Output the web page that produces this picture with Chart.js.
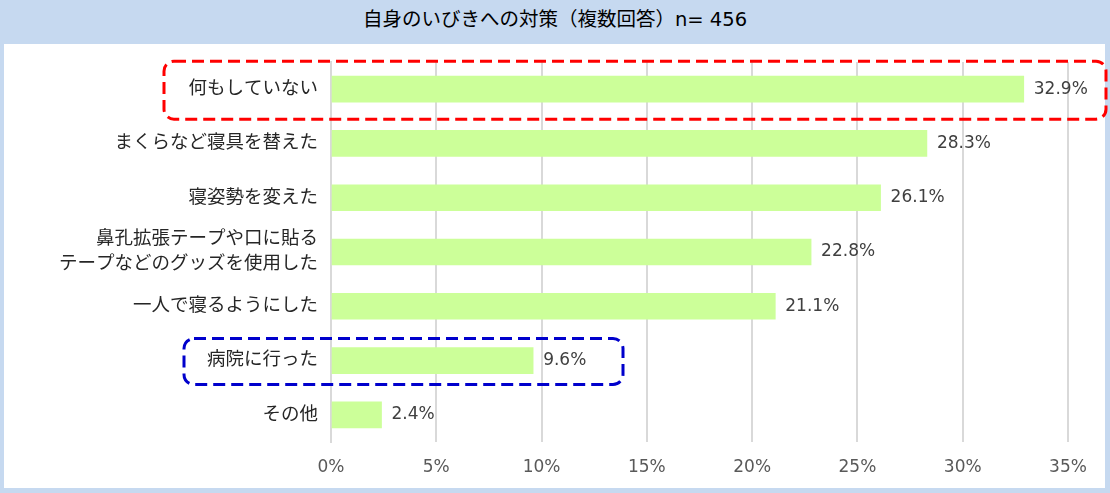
<!DOCTYPE html>
<html>
<head>
<meta charset="utf-8">
<script src="https://cdn.jsdelivr.net/npm/chart.js@4"></script>
<style>
  html, body { margin: 0; padding: 0; background: #c6d9f0; }
  #wrap { position: relative; width: 1110px; height: 493px; }
  #title {
    position: absolute; left: 0; top: 3px; width: 1110px; height: 40px;
    line-height: 40px; text-align: center; color: #000;
    font: 19.5px "DejaVu Sans", "Noto Sans CJK JP", sans-serif;
  }
  #panel { position: absolute; left: 4px; top: 44px; width: 1101px; height: 444px; background: #fff; }
  canvas { position: absolute; left: 0; top: 0; }
</style>
</head>
<body>
<div id="wrap">
  <div id="title">自身のいびきへの対策（複数回答）n= 456</div>
  <div id="panel"></div>
  <canvas id="chart" width="1110" height="493"></canvas>
</div>
<script>
// data
var categories = [
    '何もしていない',
    'まくらなど寝具を替えた',
    '寝姿勢を変えた',
    ['鼻孔拡張テープや口に貼る', 'テープなどのグッズを使用した'],
    '一人で寝るようにした',
    '病院に行った',
    'その他'
];
var values = [32.9, 28.3, 26.1, 22.8, 21.1, 9.6, 2.4];
var xTicks = [0, 5, 10, 15, 20, 25, 30, 35];

var FONT = '"DejaVu Sans", "Noto Sans CJK JP", sans-serif';

// value labels at end of bars
var valueLabels = {
    id: 'valueLabels',
    afterDatasetsDraw: function (chart) {
        var ctx = chart.ctx;
        var meta = chart.getDatasetMeta(0);
        ctx.save();
        ctx.font = '17px ' + FONT;
        ctx.fillStyle = '#404040';
        ctx.textAlign = 'left';
        ctx.textBaseline = 'middle';
        meta.data.forEach(function (bar, i) {
            ctx.fillText(values[i].toFixed(1) + '%', bar.x + 10, bar.y);
        });
        ctx.restore();
    }
};

// dashed highlight boxes
function roundRect(ctx, x, y, w, h, r) {
    ctx.beginPath();
    ctx.moveTo(x + r, y);
    ctx.lineTo(x + w - r, y);
    ctx.arcTo(x + w, y, x + w, y + r, r);
    ctx.lineTo(x + w, y + h - r);
    ctx.arcTo(x + w, y + h, x + w - r, y + h, r);
    ctx.lineTo(x + r, y + h);
    ctx.arcTo(x, y + h, x, y + h - r, r);
    ctx.lineTo(x, y + r);
    ctx.arcTo(x, y, x + r, y, r);
    ctx.closePath();
}

var highlights = {
    id: 'highlights',
    afterDraw: function (chart) {
        var ctx = chart.ctx;
        var ys = chart.scales.y;
        var boxes = [
            { idx: 0, left: 164, right: 1106, h: 58, color: '#ff0000' },
            { idx: 5, left: 184, right: 623, h: 46, color: '#0000cc' }
        ];
        ctx.save();
        ctx.lineWidth = 3;
        ctx.setLineDash([12, 6]);
        boxes.forEach(function (b) {
            var cy = ys.getPixelForValue(b.idx) + 1;
            ctx.strokeStyle = b.color;
            roundRect(ctx, b.left, cy - b.h / 2, b.right - b.left, b.h, 10);
            ctx.stroke();
        });
        ctx.restore();
    }
};

new Chart(document.getElementById('chart'), {
    type: 'bar',
    data: {
        labels: categories,
        datasets: [{
            data: values,
            backgroundColor: '#ccff99',
            borderWidth: 0,
            barThickness: 26
        }]
    },
    options: {
        indexAxis: 'y',
        responsive: false,
        animation: false,
        layout: { padding: { top: 62, bottom: 0, left: 0, right: 42 } },
        plugins: { legend: { display: false }, tooltip: { enabled: false } },
        scales: {
            x: {
                min: 0,
                max: 35,
                afterBuildTicks: function (axis) {
                    axis.ticks = xTicks.map(function (v) { return { value: v }; });
                },
                afterFit: function (axis) { axis.height = 51; },
                grid: { color: '#d9d9d9', lineWidth: 2, drawTicks: false },
                border: { display: false },
                ticks: {
                    padding: 15,
                    color: '#595959',
                    font: { family: FONT, size: 17 },
                    callback: function (v) { return v + '%'; }
                }
            },
            y: {
                afterFit: function (axis) { axis.width = 331; },
                grid: { display: false, drawTicks: false },
                border: { color: '#d9d9d9', width: 2 },
                ticks: {
                    padding: 13,
                    color: '#262626',
                    font: { family: FONT, size: 18.5, lineHeight: 1.35 }
                }
            }
        }
    },
    plugins: [valueLabels, highlights]
});
</script>
</body>
</html>
